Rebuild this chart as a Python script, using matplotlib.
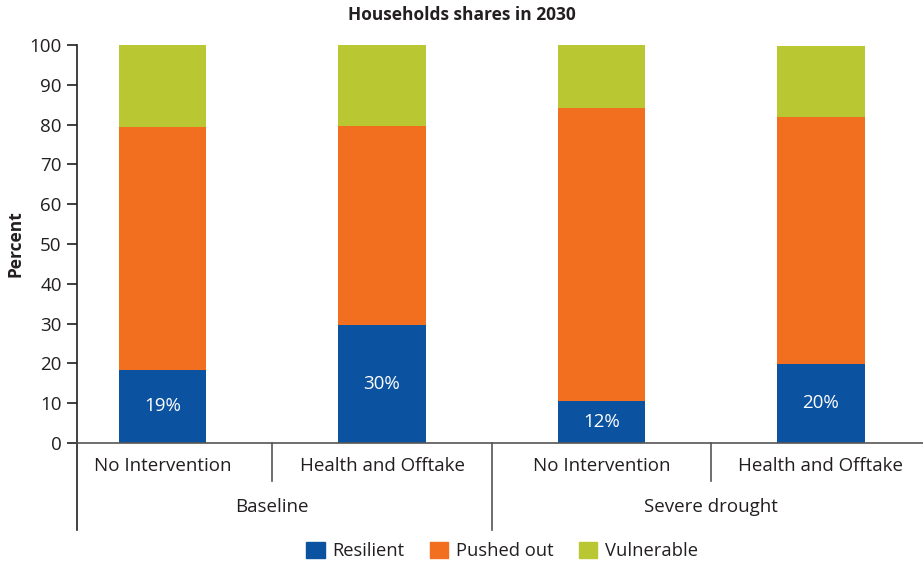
import numpy as np
import matplotlib
matplotlib.use('Agg')
import matplotlib.pyplot as plt
from matplotlib.patches import Patch

plt.rcParams['font.family'] = ['Open Sans', 'DejaVu Sans']

# Data
scenarios = ['Baseline', 'Severe drought']
interventions = ['No Intervention', 'Health and Offtake', 'No Intervention', 'Health and Offtake']
resilient = [18.4, 29.7, 10.6, 19.9]
pushed_out = [61.0, 50.0, 73.6, 62.0]
vulnerable = [20.6, 20.3, 15.8, 17.8]
resilient_labels = ['19%', '30%', '12%', '20%']

c_res = '#0b52a0'
c_push = '#f26f20'
c_vul = '#b9c733'
dark = '#231f20'

W, H = 923, 565
fig = plt.figure(figsize=(W / 100, H / 100), dpi=100)
ax = fig.add_axes([77 / W, (H - 443) / H, 1 - 77 / W, (443 - 45) / H])

x = np.arange(len(interventions))
width = 0.40
res = np.array(resilient)
push = np.array(pushed_out)
vul = np.array(vulnerable)
ax.bar(x, res, width, color=c_res, label='Resilient')
ax.bar(x, push, width, bottom=res, color=c_push, label='Pushed out')
ax.bar(x, vul, width, bottom=res + push, color=c_vul, label='Vulnerable')

for xi, r, lab in zip(x, res, resilient_labels):
    ax.text(xi, r / 2, lab, ha='center', va='center', color='white', fontsize=13.5)

ax.set_ylim(0, 100)
ax.set_xlim(-0.39, 3.465)
ax.set_yticks(np.arange(0, 101, 10))
ax.set_xticks([])
ax.tick_params(axis='y', direction='out', length=7, width=1.2, color=dark,
               labelsize=13.5, labelcolor=dark, pad=4)
for s in ['top', 'right']:
    ax.spines[s].set_visible(False)
ax.spines['left'].set_color(dark)
ax.spines['left'].set_linewidth(1.2)
ax.spines['bottom'].set_color('#555555')
ax.spines['bottom'].set_linewidth(1.2)

# left spine continues below the axis
ax.plot([0, 0], [0, -0.219], transform=ax.transAxes, color=dark, lw=1.2, clip_on=False)

trans = ax.get_xaxis_transform()
for xi, name in zip(x, interventions):
    ax.text(xi, -0.058, name, transform=trans, ha='center', va='center',
            fontsize=13.5, color=dark)
for i, name in enumerate(scenarios):
    ax.text(2 * i + 0.5, -0.161, name, transform=trans, ha='center', va='center',
            fontsize=13.5, color=dark)

# separators between categories
ax.plot([0.5, 0.5], [0, -0.095], transform=trans, color='#555555', lw=1.2, clip_on=False)
ax.plot([2.5, 2.5], [0, -0.095], transform=trans, color='#555555', lw=1.2, clip_on=False)
ax.plot([1.5, 1.5], [0, -0.219], transform=trans, color='#555555', lw=1.2, clip_on=False)

fig.text(462 / W, 1 - 15 / H, 'Households shares in 2030', ha='center', va='center',
         fontsize=12.5, fontweight='bold', color=dark)
fig.text(16 / W, 1 - 244 / H, 'Percent', ha='center', va='center', rotation=90,
         fontsize=12.5, fontweight='bold', color=dark)

handles = [Patch(color=c_res), Patch(color=c_push), Patch(color=c_vul)]
fig.legend(handles, ['Resilient', 'Pushed out', 'Vulnerable'], loc='center',
           bbox_to_anchor=(502 / W, 1 - 551 / H), ncol=3, frameon=False,
           handlelength=1.0, handleheight=1.0, handletextpad=0.4, columnspacing=1.4,
           fontsize=13.2, labelcolor=dark)

fig.savefig('out.png', dpi=100)
